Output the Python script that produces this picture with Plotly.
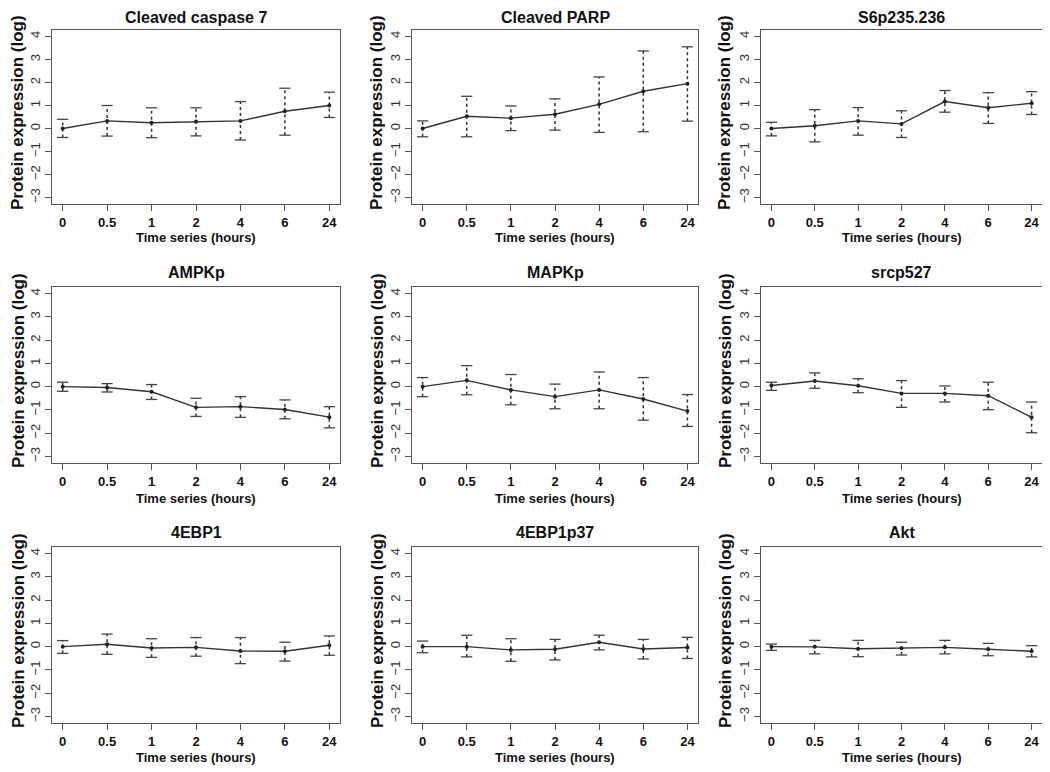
import plotly.graph_objects as go

time_labels = ['0', '0.5', '1', '2', '4', '6', '24']
y_ticks = [-3, -2, -1, 0, 1, 2, 3, 4]

# mean and the lower / upper ends of the error bars
casp7_mean = [0.00, 0.33, 0.25, 0.30, 0.33, 0.75, 1.00]
casp7_lo = [-0.39, -0.33, -0.40, -0.32, -0.50, -0.29, 0.48]
casp7_hi = [0.40, 1.00, 0.90, 0.90, 1.17, 1.75, 1.58]

parp_mean = [0.00, 0.53, 0.45, 0.62, 1.05, 1.62, 1.95]
parp_lo = [-0.36, -0.36, -0.09, -0.07, -0.17, -0.14, 0.32]
parp_hi = [0.33, 1.40, 0.98, 1.29, 2.24, 3.37, 3.55]

s6_mean = [0.00, 0.12, 0.33, 0.20, 1.17, 0.90, 1.10]
s6_lo = [-0.32, -0.58, -0.29, -0.39, 0.71, 0.22, 0.61]
s6_hi = [0.27, 0.82, 0.91, 0.77, 1.65, 1.56, 1.60]

ampk_mean = [0.00, -0.04, -0.22, -0.89, -0.86, -0.98, -1.31]
ampk_lo = [-0.20, -0.23, -0.55, -1.28, -1.32, -1.38, -1.77]
ampk_hi = [0.19, 0.13, 0.09, -0.50, -0.43, -0.57, -0.86]

mapk_mean = [0.00, 0.27, -0.14, -0.43, -0.14, -0.53, -1.05]
mapk_lo = [-0.43, -0.35, -0.78, -0.95, -0.95, -1.44, -1.71]
mapk_hi = [0.39, 0.90, 0.52, 0.11, 0.63, 0.39, -0.34]

src_mean = [0.05, 0.24, 0.04, -0.29, -0.29, -0.39, -1.32]
src_lo = [-0.16, -0.07, -0.26, -0.89, -0.66, -0.99, -1.98]
src_hi = [0.19, 0.59, 0.34, 0.26, 0.03, 0.19, -0.66]

ebp1_mean = [0.00, 0.10, -0.06, -0.03, -0.19, -0.20, 0.06]
ebp1_lo = [-0.29, -0.33, -0.46, -0.41, -0.73, -0.62, -0.37]
ebp1_hi = [0.26, 0.54, 0.34, 0.39, 0.39, 0.19, 0.46]

ebp1p37_mean = [0.00, 0.00, -0.14, -0.11, 0.19, -0.10, -0.04]
ebp1p37_lo = [-0.26, -0.44, -0.63, -0.57, -0.14, -0.53, -0.51]
ebp1p37_hi = [0.24, 0.49, 0.34, 0.31, 0.49, 0.31, 0.40]

akt_mean = [0.00, -0.01, -0.09, -0.07, -0.03, -0.11, -0.20]
akt_lo = [-0.16, -0.31, -0.43, -0.36, -0.31, -0.39, -0.44]
akt_hi = [0.11, 0.27, 0.27, 0.19, 0.27, 0.14, 0.04]

panels = [
    ('Cleaved caspase 7', casp7_mean, casp7_lo, casp7_hi),
    ('Cleaved PARP', parp_mean, parp_lo, parp_hi),
    ('S6p235.236', s6_mean, s6_lo, s6_hi),
    ('AMPKp', ampk_mean, ampk_lo, ampk_hi),
    ('MAPKp', mapk_mean, mapk_lo, mapk_hi),
    ('srcp527', src_mean, src_lo, src_hi),
    ('4EBP1', ebp1_mean, ebp1_lo, ebp1_hi),
    ('4EBP1p37', ebp1p37_mean, ebp1p37_lo, ebp1p37_hi),
    ('Akt', akt_mean, akt_lo, akt_hi),
]

# page body keeps its default 8px margin, so the figure is a bit smaller
OFF = 8
W, H = 1050 - OFF, 772 - OFF
col_px = [(52, 340), (412, 698), (761, 1042)]
row_px = [(30, 204), (287, 463), (547, 723)]
title_px = [14, 272, 532]
xlab_px = [237, 498, 757]
ylab_px = [18, 377, 725]


def px_x(v):
    return (v - OFF) / W


def px_y(v):
    return 1 - (v - OFF) / H


FONT = 'Liberation Sans, Arial, sans-serif'
pos = list(range(len(time_labels)))

fig = go.Figure()
layout = {}
annotations = []

for i, (name, mean, lo, hi) in enumerate(panels):
    r, c = divmod(i, 3)
    n = '' if i == 0 else str(i + 1)
    xa, ya = 'x' + n, 'y' + n

    # dotted whiskers
    wx, wy = [], []
    for p, a, b in zip(pos, lo, hi):
        wx += [p, p, None]
        wy += [a, b, None]
    fig.add_trace(go.Scatter(x=wx, y=wy, mode='lines', xaxis=xa, yaxis=ya,
                             line=dict(color='#333333', width=1.5, dash='dot'),
                             hoverinfo='skip', showlegend=False))
    # caps
    fig.add_trace(go.Scatter(x=pos + pos, y=lo + hi, mode='markers', xaxis=xa, yaxis=ya,
                             marker=dict(symbol='line-ew', size=8,
                                         line=dict(color='#444444', width=1.3)),
                             hoverinfo='skip', showlegend=False))
    # mean line
    fig.add_trace(go.Scatter(x=pos, y=mean, mode='lines+markers', xaxis=xa, yaxis=ya,
                             line=dict(color='#333333', width=1.4),
                             marker=dict(size=4, color='#222222'),
                             name=name, showlegend=False))

    x0, x1 = col_px[c]
    y0, y1 = row_px[r]
    layout['xaxis' + n] = dict(
        domain=[px_x(x0), px_x(x1)], anchor=ya, range=[-0.24, 6.24],
        tickvals=pos, ticktext=time_labels, ticks='outside', ticklen=6,
        tickcolor='#555', showline=True, linecolor='#555', linewidth=1,
        mirror=True, showgrid=False, zeroline=False,
        tickfont=dict(family=FONT, size=13, color='#111', weight='bold'))
    layout['yaxis' + n] = dict(
        domain=[px_y(y1), px_y(y0)], anchor=xa, range=[-3.28, 4.28],
        tickvals=y_ticks, ticks='outside', ticklen=6, tickangle=-90,
        tickcolor='#555', showline=True, linecolor='#555', linewidth=1,
        mirror=True, showgrid=False, zeroline=False,
        tickfont=dict(family=FONT, size=13, color='#333'))

    xc = px_x((x0 + x1) / 2)
    if r == 0:
        # keep the top row titles inside the figure
        ty, tanchor = 1.0, 'top'
    else:
        ty, tanchor = px_y(title_px[r]), 'middle'
    annotations.append(dict(text='<b>%s</b>' % name, x=xc, y=ty,
                            xref='paper', yref='paper', showarrow=False,
                            xanchor='center', yanchor=tanchor, borderpad=0,
                            font=dict(family=FONT, size=16, color='#111')))
    annotations.append(dict(text='<b>Time series (hours)</b>', x=xc, y=px_y(xlab_px[r]),
                            xref='paper', yref='paper', showarrow=False,
                            xanchor='center', yanchor='middle',
                            font=dict(family=FONT, size=13, color='#111')))
    annotations.append(dict(text='<b>Protein expression (log)</b>', x=px_x(ylab_px[c]),
                            y=px_y((y0 + y1) / 2 - 4), textangle=-90,
                            xref='paper', yref='paper', showarrow=False,
                            xanchor='center', yanchor='middle',
                            font=dict(family=FONT, size=17, color='#111')))

fig.update_layout(**layout)
fig.update_layout(width=W, height=H, margin=dict(l=0, r=0, t=0, b=0),
                  paper_bgcolor='white', plot_bgcolor='white',
                  annotations=annotations, showlegend=False)

fig.write_html("out.html")
